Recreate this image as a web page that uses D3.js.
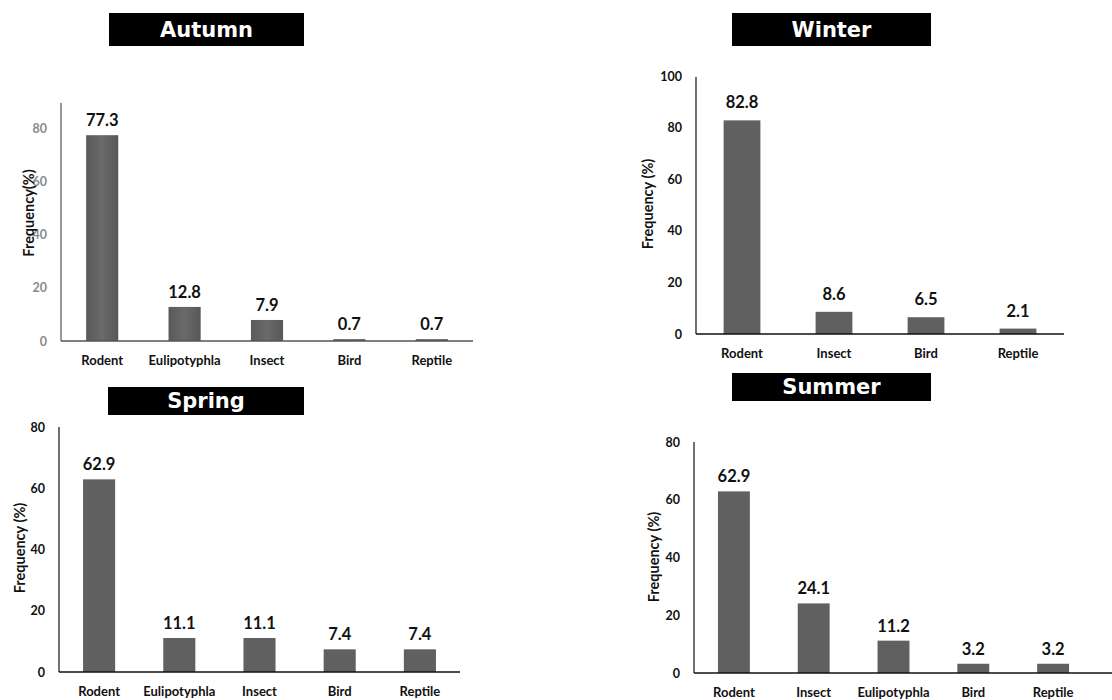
<!DOCTYPE html>
<html>
<head>
<meta charset="utf-8">
<script src="https://cdn.jsdelivr.net/npm/d3@7"></script>
<style>
  html, body { margin: 0; padding: 0; background: #fff; }
  svg { display: block; }
</style>
</head>
<body>
<svg id="chart" width="1112" height="700"></svg>
<script>
// ---------------- DATA ----------------
const autumnCategories = ["Rodent", "Eulipotyphla", "Insect", "Bird", "Reptile"];
const autumnValues     = [77.3, 12.8, 7.9, 0.7, 0.7];
const autumnTicks      = [0, 20, 40, 60, 80];

const winterCategories = ["Rodent", "Insect", "Bird", "Reptile"];
const winterValues     = [82.8, 8.6, 6.5, 2.1];
const winterTicks      = [0, 20, 40, 60, 80, 100];

const springCategories = ["Rodent", "Eulipotyphla", "Insect", "Bird", "Reptile"];
const springValues     = [62.9, 11.1, 11.1, 7.4, 7.4];
const springTicks      = [0, 20, 40, 60, 80];

const summerCategories = ["Rodent", "Insect", "Eulipotyphla", "Bird", "Reptile"];
const summerValues     = [62.9, 24.1, 11.2, 3.2, 3.2];
const summerTicks      = [0, 20, 40, 60, 80];

const panelTitles = ["Autumn", "Winter", "Spring", "Summer"];
const yAxisTitles = ["Frequency(%)", "Frequency (%)", "Frequency (%)", "Frequency (%)"];

// ---------------- LAYOUT ----------------
const panels = [
  { title: panelTitles[0], ylabel: yAxisTitles[0], cats: autumnCategories, vals: autumnValues, ticks: autumnTicks,
    x0: 61, x1: 473, lineEnd: 473, yBase: 341, yTopVal: 80, yTopPx: 128, axisTop: 103,
    box: [109, 13, 304, 46], ylx: 28, yly: 213, tickColor: "#8a8a8a", axisColor: "#555", gradient: true,
    labelGap: 9, pad: 0.61 },
  { title: panelTitles[1], ylabel: yAxisTitles[1], cats: winterCategories, vals: winterValues, ticks: winterTicks,
    x0: 696, x1: 1064, lineEnd: 1064, yBase: 334, yTopVal: 100, yTopPx: 76, axisTop: 77,
    box: [732, 13, 931, 46], ylx: 647, yly: 204, tickColor: "#111", axisColor: "#111", gradient: false,
    labelGap: 12, pad: 0.6 },
  { title: panelTitles[2], ylabel: yAxisTitles[2], cats: springCategories, vals: springValues, ticks: springTicks,
    x0: 59, x1: 460, lineEnd: 460, yBase: 672, yTopVal: 80, yTopPx: 427, axisTop: 427,
    box: [108, 387, 304, 415], ylx: 19, yly: 548, tickColor: "#111", axisColor: "#111", gradient: false,
    labelGap: 9, pad: 0.6 },
  { title: panelTitles[3], ylabel: yAxisTitles[3], cats: summerCategories, vals: summerValues, ticks: summerTicks,
    x0: 694, x1: 1093, lineEnd: 1112, yBase: 673, yTopVal: 80, yTopPx: 442, axisTop: 442,
    box: [732, 373, 931, 401], ylx: 653, yly: 557, tickColor: "#111", axisColor: "#111", gradient: false,
    labelGap: 9, pad: 0.6 }
];

const svg = d3.select("#chart");
const FONT = "Lato, 'Open Sans', sans-serif";

const defs = svg.append("defs");
const grad = defs.append("linearGradient").attr("id", "barGrad")
  .attr("x1", "0%").attr("x2", "100%").attr("y1", "0%").attr("y2", "0%");
grad.append("stop").attr("offset", "0%").attr("stop-color", "#5a5a5a");
grad.append("stop").attr("offset", "50%").attr("stop-color", "#6a6a6a");
grad.append("stop").attr("offset", "100%").attr("stop-color", "#575757");

panels.forEach(p => {
  const g = svg.append("g");

  // Title box
  g.append("rect")
    .attr("x", p.box[0]).attr("y", p.box[1])
    .attr("width", p.box[2] - p.box[0]).attr("height", p.box[3] - p.box[1])
    .attr("fill", "#000");
  g.append("text")
    .attr("x", (p.box[0] + p.box[2]) / 2)
    .attr("y", (p.box[1] + p.box[3]) / 2)
    .attr("text-anchor", "middle")
    .attr("dominant-baseline", "central")
    .attr("fill", "#fff")
    .style("font-family", "'DejaVu Sans', sans-serif")
    .style("font-weight", "bold")
    .style("font-size", "21px")
    .text(p.title);

  const x = d3.scaleBand().domain(p.cats).range([p.x0, p.x1])
    .paddingInner(p.pad).paddingOuter(p.pad / 2);
  const y = d3.scaleLinear().domain([0, p.yTopVal]).range([p.yBase, p.yTopPx]);

  const rows = p.cats.map((c, i) => ({ c, v: p.vals[i] }));

  // Bars
  g.selectAll("rect.bar").data(rows)
    .enter().append("rect").attr("class", "bar")
    .attr("x", d => x(d.c))
    .attr("width", x.bandwidth())
    .attr("y", d => y(d.v))
    .attr("height", d => y(0) - y(d.v))
    .attr("fill", p.gradient ? "url(#barGrad)" : "#606060");

  // Value labels
  g.selectAll("text.val").data(rows)
    .enter().append("text").attr("class", "val")
    .attr("x", d => x(d.c) + x.bandwidth() / 2)
    .attr("y", d => y(d.v) - p.labelGap)
    .attr("text-anchor", "middle")
    .attr("fill", "#111")
    .style("font-family", FONT)
    .style("font-weight", "bold")
    .style("font-size", "16.5px")
    .text(d => d.v.toFixed(1));

  // Y axis ticks
  const yAxis = d3.axisLeft(y).tickValues(p.ticks).tickSize(0).tickPadding(14).tickFormat(d3.format("d"));
  const ya = g.append("g").attr("transform", `translate(${p.x0},0)`).call(yAxis);
  ya.select(".domain").remove();
  ya.selectAll("text")
    .attr("fill", p.tickColor)
    .style("font-family", FONT)
    .style("font-weight", "bold")
    .style("font-size", "12.5px");

  // X axis labels
  const xAxis = d3.axisBottom(x).tickSize(0).tickPadding(15);
  const xa = g.append("g").attr("transform", `translate(0,${p.yBase})`).call(xAxis);
  xa.select(".domain").remove();
  xa.selectAll("text")
    .attr("fill", "#111")
    .style("font-family", FONT)
    .style("font-weight", "bold")
    .style("font-size", "13px");

  // Axis lines
  g.append("line")
    .attr("x1", p.x0).attr("x2", p.x0)
    .attr("y1", p.axisTop).attr("y2", p.yBase)
    .attr("stroke", p.axisColor).attr("stroke-width", 1.2);
  g.append("line")
    .attr("x1", p.x0).attr("x2", p.lineEnd)
    .attr("y1", p.yBase).attr("y2", p.yBase)
    .attr("stroke", p.axisColor).attr("stroke-width", 1.5);

  // Y axis title
  g.append("text")
    .attr("transform", `translate(${p.ylx},${p.yly}) rotate(-90)`)
    .attr("text-anchor", "middle")
    .attr("dominant-baseline", "central")
    .attr("fill", "#111")
    .style("font-family", FONT)
    .style("font-weight", "bold")
    .style("font-size", "14.5px")
    .text(p.ylabel);
});
</script>
</body>
</html>
